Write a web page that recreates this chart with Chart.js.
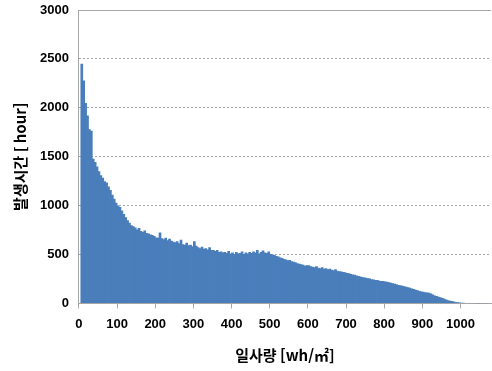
<!DOCTYPE html>
<html lang="ko">
<head>
  <meta charset="UTF-8">
  <title>일사량 분포</title>
  <style>
    html, body { margin: 0; padding: 0; background: #fff; }
    #wrap { width: 492px; height: 371px; }
  </style>
</head>
<body>
  <div id="wrap"><canvas id="histChart" width="492" height="371"></canvas></div>

  <script src="https://cdn.jsdelivr.net/npm/chart.js"></script>
  <script>
    // bin width in wh/m2, bins start at 0
    const binWidth = 5;

    // occurrence hours per bin (50 wh/m2 per row)
    const hours = [
      0, 2450, 2280, 2050, 1920, 1780, 1765, 1480, 1445, 1400,
      1350, 1310, 1285, 1250, 1235, 1195, 1160, 1110, 1070, 1030,
      1000, 985, 950, 915, 880, 850, 825, 800, 790, 775,
      755, 770, 740, 730, 745, 720, 715, 705, 700, 690,
      675, 670, 725, 665, 655, 670, 645, 660, 640, 630,
      625, 635, 615, 650, 605, 600, 620, 595, 600, 585,
      635, 590, 575, 565, 580, 560, 565, 550, 575, 545,
      545, 535, 545, 525, 530, 520, 525, 515, 535, 510,
      520, 505, 525, 510, 515, 530, 505, 520, 510, 525,
      515, 530, 520, 545, 510, 525, 540, 520, 515, 530,
      505, 500, 495, 485, 480, 470, 465, 455, 450, 440,
      445, 430, 425, 420, 410, 405, 400, 395, 385, 390,
      390, 380, 375, 370, 380, 365, 360, 370, 355, 360,
      350, 355, 345, 340, 348, 335, 330, 325, 320, 318,
      310, 308, 300, 295, 292, 285, 280, 276, 270, 266,
      262, 258, 255, 248, 245, 240, 238, 232, 230, 228,
      225, 222, 215, 212, 205, 200, 195, 188, 185, 180,
      175, 170, 165, 160, 152, 148, 140, 135, 128, 122,
      118, 115, 112, 108, 100, 92, 82, 75, 68, 62,
      55, 48, 40, 33, 28, 24, 20, 15, 12, 9,
      7, 6, 5, 4, 4, 3, 3, 2, 2, 2,
      1, 1, 1, 1, 0, 0
    ];

    const xTicks = [0, 100, 200, 300, 400, 500, 600, 700, 800, 900, 1000];
    const xTitle = '일사량 [wh/㎡]';
    const yTitle = '발생시간 [ hour]';

    const points = hours.map((h, i) => ({ x: i * binWidth + binWidth / 2, y: h }));

    // solid line along the top of the plot (3000 gridline is solid in the original)
    const topLine = {
      id: 'topLine',
      afterDraw(chart) {
        const { ctx, chartArea } = chart;
        ctx.save();
        ctx.strokeStyle = '#a6a6a6';
        ctx.lineWidth = 1;
        ctx.beginPath();
        ctx.moveTo(chartArea.left, Math.round(chartArea.top) + 0.5);
        ctx.lineTo(chartArea.right, Math.round(chartArea.top) + 0.5);
        ctx.stroke();
        ctx.restore();
      }
    };

    const tickFont = { family: 'Liberation Sans, Arial, sans-serif', size: 13, weight: 'bold' };
    const titleFont = { family: '"Noto Sans CJK KR", sans-serif', size: 15, weight: 'bold' };

    new Chart(document.getElementById('histChart'), {
      type: 'bar',
      data: {
        datasets: [{
          data: points,
          backgroundColor: '#4a7ebb',
          borderWidth: 0,
          barPercentage: 1.4,
          categoryPercentage: 1
        }]
      },
      plugins: [topLine],
      options: {
        responsive: false,
        animation: false,
        layout: { padding: { left: 11, right: 1, top: 10, bottom: 7 } },
        plugins: {
          legend: { display: false },
          tooltip: { enabled: false }
        },
        scales: {
          x: {
            type: 'linear',
            offset: false,
            min: 0,
            max: 1080,
            afterBuildTicks: axis => {
              axis.ticks = xTicks.map(v => ({ value: v }));
            },
            ticks: { color: '#000', font: tickFont, padding: 8, maxRotation: 0, autoSkip: false,
                     callback: v => String(v) },
            grid: { drawOnChartArea: false, offset: false, tickLength: 5, color: '#a6a6a6' },
            border: { color: '#a6a6a6' },
            title: { display: true, text: xTitle, color: '#000', font: titleFont, padding: { top: 6, bottom: 0 } }
          },
          y: {
            min: 0,
            max: 3000,
            // drop the label overhang so the 3000 line sits near the top edge
            afterFit: s => { s.paddingTop = 0; },
            ticks: { stepSize: 500, color: '#000', font: tickFont, padding: 10,
                     callback: v => String(v) },
            grid: { color: '#a6a6a6', drawTicks: false },
            border: { color: '#a6a6a6', dash: [2, 2] },
            title: { display: true, text: yTitle, color: '#000', font: titleFont, padding: { top: 0, bottom: 1 } }
          }
        }
      }
    });
  </script>
</body>
</html>
